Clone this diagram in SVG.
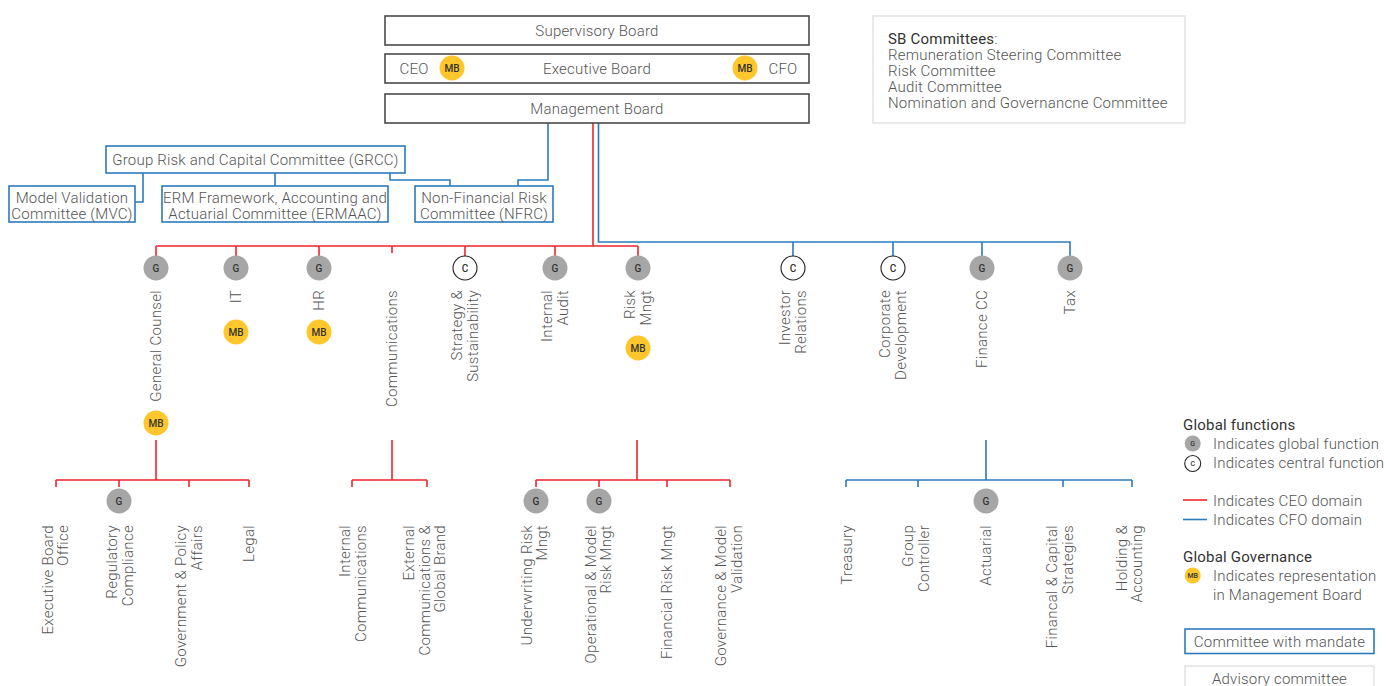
<svg xmlns="http://www.w3.org/2000/svg" width="1389" height="686" viewBox="0 0 1389 686">
<style>
.box{fill:#fff;stroke:#4a4a4a;stroke-width:1.6}
.cbox{fill:#fff;stroke:#2b7bba;stroke-width:1.6}
.adv{fill:#fff;stroke:#dcdcdc;stroke-width:1.2}
text{font-family:Roboto,"Liberation Sans",sans-serif;font-size:15px;font-weight:300;fill:#555;letter-spacing:0.2px}
.m{text-anchor:middle}
.e{text-anchor:end;letter-spacing:0.3px}
.h{fill:#333;font-weight:400}
.red{stroke:#f0262e;stroke-width:1.6;fill:none}
.blue{stroke:#2b7bba;stroke-width:1.6;fill:none}
.gc{fill:#a6a6a6}
.cc{fill:#fff;stroke:#222;stroke-width:1.1}
.mbc{fill:#ffc72c}
.bt{font-size:10px;font-weight:500;fill:#333;text-anchor:middle;letter-spacing:0}
.bs{font-size:7px;font-weight:500;fill:#333;text-anchor:middle;letter-spacing:0}
</style>

<g id="connectors">
  <path class="blue" d="M143,173V202H135M275,173V186M390,173V180H450V186M548,123V180H518V186"/>
  <path class="red" d="M593,123V246M156,246H638M156,246V256M236,246V256M319,246V256M392,246V253M465,246V256M555,246V256M638,246V256"/>
  <path class="blue" d="M598.5,123V242H1070V256M793,242V256M893,242V256M982,242V256"/>
  <path class="red" d="M156,440V480M56,480H249M56,480V487M119,480V487M189,480V487M249,480V487"/>
  <path class="red" d="M392,440V480M352,480H427M352,480V487M427,480V487"/>
  <path class="red" d="M637,440V480M536,480H730M536,480V487M599,480V487M667,480V487M730,480V487"/>
  <path class="blue" d="M986,440V480M846,480H1132M846,480V487M918,480V487M1063,480V487M1132,480V487"/>
</g>

<g id="supervisory-board">
  <rect class="box" x="385" y="16" width="424" height="29"/>
  <text class="m" x="597" y="36">Supervisory Board</text>
</g>
<g id="executive-board">
  <rect class="box" x="385" y="54" width="424" height="29"/>
  <text class="m" x="597" y="73.5">Executive Board</text>
  <text class="m" x="414" y="73.5">CEO</text>
  <circle class="mbc" cx="452" cy="68" r="12.5"/><text class="bt" x="452" y="71.5">MB</text>
  <circle class="mbc" cx="745" cy="68" r="12.5"/><text class="bt" x="745" y="71.5">MB</text>
  <text class="m" x="783" y="73.5">CFO</text>
</g>
<g id="management-board">
  <rect class="box" x="385" y="94" width="424" height="29"/>
  <text class="m" x="597" y="113.5">Management Board</text>
</g>
<g id="sb-committees">
  <rect class="adv" x="873" y="16" width="312" height="107"/>
  <text x="888" y="44"><tspan class="h">SB Committees</tspan>:</text>
  <text x="888" y="60">Remuneration Steering Committee</text>
  <text x="888" y="76">Risk Committee</text>
  <text x="888" y="92">Audit Committee</text>
  <text x="888" y="108">Nomination and Governancne Committee</text>
</g>

<g id="grcc">
  <rect class="cbox" x="106" y="146" width="299" height="27"/>
  <text class="m" x="255.5" y="164.5">Group Risk and Capital Committee (GRCC)</text>
</g>
<g id="mvc">
  <rect class="cbox" x="9" y="186" width="126" height="36"/>
  <text class="m" x="72" y="203">Model Validation</text>
  <text class="m" x="72" y="219">Committee (MVC)</text>
</g>
<g id="ermaac">
  <rect class="cbox" x="162" y="186" width="226" height="36"/>
  <text class="m" x="275" y="203">ERM Framework, Accounting and</text>
  <text class="m" x="275" y="219">Actuarial Committee (ERMAAC)</text>
</g>
<g id="nfrc">
  <rect class="cbox" x="415" y="186" width="138" height="36"/>
  <text class="m" x="484" y="203">Non-Financial Risk</text>
  <text class="m" x="484" y="219">Committee (NFRC)</text>
</g>

<!-- CEO domain functions -->
<g id="general-counsel">
  <circle class="gc" cx="156" cy="268" r="12.5"/><text class="bt" x="156" y="271.5">G</text>
  <text class="e" transform="translate(161,290) rotate(-90)">General Counsel</text>
  <circle class="mbc" cx="156" cy="423" r="12.5"/><text class="bt" x="156" y="426.5">MB</text>
</g>
<g id="it">
  <circle class="gc" cx="236" cy="268" r="12.5"/><text class="bt" x="236" y="271.5">G</text>
  <text class="e" transform="translate(241,290) rotate(-90)">IT</text>
  <circle class="mbc" cx="236" cy="332" r="12.5"/><text class="bt" x="236" y="335.5">MB</text>
</g>
<g id="hr">
  <circle class="gc" cx="319" cy="268" r="12.5"/><text class="bt" x="319" y="271.5">G</text>
  <text class="e" transform="translate(324,290) rotate(-90)">HR</text>
  <circle class="mbc" cx="319" cy="332" r="12.5"/><text class="bt" x="319" y="335.5">MB</text>
</g>
<g id="communications">
  <text class="e" transform="translate(397,290) rotate(-90)">Communications</text>
</g>
<g id="strategy">
  <circle class="cc" cx="465" cy="268" r="12"/><text class="bt" x="465" y="271.5">C</text>
  <text class="e" transform="translate(462,290) rotate(-90)"><tspan x="0" y="0">Strategy &amp;</tspan><tspan x="0" y="15.5">Sustainability</tspan></text>
</g>
<g id="internal-audit">
  <circle class="gc" cx="555" cy="268" r="12.5"/><text class="bt" x="555" y="271.5">G</text>
  <text class="e" transform="translate(552,290) rotate(-90)"><tspan x="0" y="0">Internal</tspan><tspan x="0" y="15.5">Audit</tspan></text>
</g>
<g id="risk-mngt">
  <circle class="gc" cx="638" cy="268" r="12.5"/><text class="bt" x="638" y="271.5">G</text>
  <text class="e" transform="translate(635,290) rotate(-90)"><tspan x="0" y="0">Risk</tspan><tspan x="0" y="15.5">Mngt</tspan></text>
  <circle class="mbc" cx="638" cy="348" r="12.5"/><text class="bt" x="638" y="351.5">MB</text>
</g>

<!-- CFO domain functions -->
<g id="investor-relations">
  <circle class="cc" cx="793" cy="268" r="12"/><text class="bt" x="793" y="271.5">C</text>
  <text class="e" transform="translate(790,290) rotate(-90)"><tspan x="0" y="0">Investor</tspan><tspan x="0" y="15.5">Relations</tspan></text>
</g>
<g id="corporate-development">
  <circle class="cc" cx="893" cy="268" r="12"/><text class="bt" x="893" y="271.5">C</text>
  <text class="e" transform="translate(890,290) rotate(-90)"><tspan x="0" y="0">Corporate</tspan><tspan x="0" y="15.5">Development</tspan></text>
</g>
<g id="finance-cc">
  <circle class="gc" cx="982" cy="268" r="12.5"/><text class="bt" x="982" y="271.5">G</text>
  <text class="e" transform="translate(987,290) rotate(-90)">Finance CC</text>
</g>
<g id="tax">
  <circle class="gc" cx="1070" cy="268" r="12.5"/><text class="bt" x="1070" y="271.5">G</text>
  <text class="e" transform="translate(1075,290) rotate(-90)">Tax</text>
</g>

<!-- General Counsel sub-units -->
<g id="executive-board-office">
  <text class="e" transform="translate(52.7,525) rotate(-90)"><tspan x="0" y="0">Executive Board</tspan><tspan x="0" y="15.5">Office</tspan></text>
</g>
<g id="regulatory-compliance">
  <circle class="gc" cx="119" cy="501" r="12.5"/><text class="bt" x="119" y="504.5">G</text>
  <text class="e" transform="translate(117.3,525) rotate(-90)"><tspan x="0" y="0">Regulatory</tspan><tspan x="0" y="15.5">Compliance</tspan></text>
</g>
<g id="government-policy">
  <text class="e" transform="translate(186,525) rotate(-90)"><tspan x="0" y="0">Government &amp; Policy</tspan><tspan x="0" y="15.5">Affairs</tspan></text>
</g>
<g id="legal">
  <text class="e" transform="translate(254,525) rotate(-90)">Legal</text>
</g>

<!-- Communications sub-units -->
<g id="internal-communications">
  <text class="e" transform="translate(350,525) rotate(-90)"><tspan x="0" y="0">Internal</tspan><tspan x="0" y="15.5">Communications</tspan></text>
</g>
<g id="external-communications">
  <text class="e" transform="translate(414,525) rotate(-90)"><tspan x="0" y="0">External</tspan><tspan x="0" y="15.5">Communications &amp;</tspan><tspan x="0" y="31">Global Brand</tspan></text>
</g>

<!-- Risk sub-units -->
<g id="underwriting-risk">
  <circle class="gc" cx="536" cy="501" r="12.5"/><text class="bt" x="536" y="504.5">G</text>
  <text class="e" transform="translate(531.7,525) rotate(-90)"><tspan x="0" y="0">Underwriting Risk</tspan><tspan x="0" y="15.5">Mngt</tspan></text>
</g>
<g id="operational-model-risk">
  <circle class="gc" cx="599" cy="501" r="12.5"/><text class="bt" x="599" y="504.5">G</text>
  <text class="e" transform="translate(595.7,525) rotate(-90)"><tspan x="0" y="0">Operational &amp; Model</tspan><tspan x="0" y="15.5">Risk Mngt</tspan></text>
</g>
<g id="financial-risk">
  <text class="e" transform="translate(672.3,525) rotate(-90)">Financial Risk Mngt</text>
</g>
<g id="governance-model-validation">
  <text class="e" transform="translate(726,525) rotate(-90)"><tspan x="0" y="0">Governance &amp; Model</tspan><tspan x="0" y="15.5">Validation</tspan></text>
</g>

<!-- Finance CC sub-units -->
<g id="treasury">
  <text class="e" transform="translate(851.7,525) rotate(-90)">Treasury</text>
</g>
<g id="group-controller">
  <text class="e" transform="translate(913.3,525) rotate(-90)"><tspan x="0" y="0">Group</tspan><tspan x="0" y="15.5">Controller</tspan></text>
</g>
<g id="actuarial">
  <circle class="gc" cx="986" cy="501" r="12.5"/><text class="bt" x="986" y="504.5">G</text>
  <text class="e" transform="translate(991,525) rotate(-90)">Actuarial</text>
</g>
<g id="financal-capital-strategies">
  <text class="e" transform="translate(1057,525) rotate(-90)"><tspan x="0" y="0">Financal &amp; Capital</tspan><tspan x="0" y="15.5">Strategies</tspan></text>
</g>
<g id="holding-accounting">
  <text class="e" transform="translate(1126.7,525) rotate(-90)"><tspan x="0" y="0">Holding &amp;</tspan><tspan x="0" y="15.5">Accounting</tspan></text>
</g>

<!-- Legend -->
<g id="legend">
  <text class="h" x="1183" y="430">Global functions</text>
  <circle class="gc" cx="1192.7" cy="443.5" r="8"/><text class="bs" x="1192.7" y="446">G</text>
  <text x="1213" y="449">Indicates global function</text>
  <circle class="cc" cx="1192.7" cy="463.5" r="8"/><text class="bs" x="1192.7" y="466">C</text>
  <text x="1213" y="468">Indicates central function</text>
  <line class="red" x1="1183" y1="500" x2="1207" y2="500"/>
  <text x="1213" y="506">Indicates CEO domain</text>
  <line class="blue" x1="1183" y1="519.5" x2="1207" y2="519.5"/>
  <text x="1213" y="525">Indicates CFO domain</text>
  <text class="h" x="1183" y="562">Global Governance</text>
  <circle class="mbc" cx="1192.7" cy="575.5" r="8"/><text class="bs" x="1192.7" y="578">MB</text>
  <text x="1213" y="581">Indicates representation</text>
  <text x="1213" y="600">in Management Board</text>
  <rect class="cbox" x="1185" y="629" width="189" height="24.5"/>
  <text class="m" x="1279.5" y="647">Committee with mandate</text>
  <rect class="adv" x="1185" y="666" width="189" height="30"/>
  <text class="m" x="1279.5" y="684">Advisory committee</text>
</g>
</svg>
